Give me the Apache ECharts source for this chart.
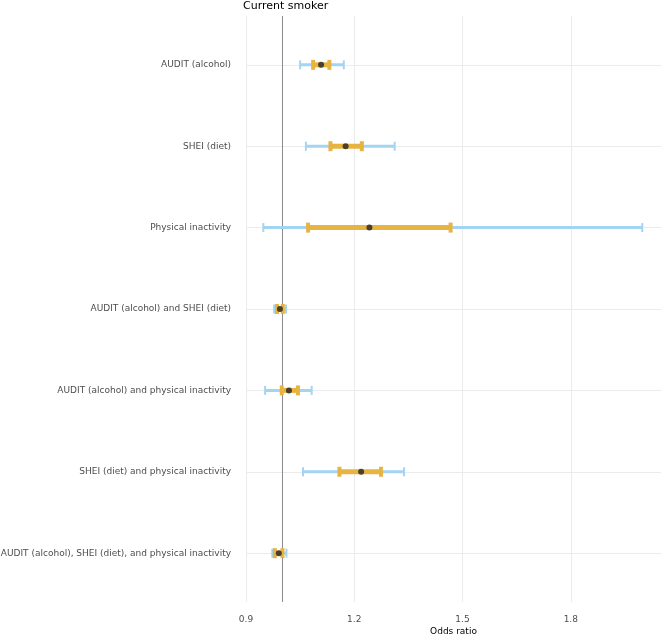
<!DOCTYPE html>
<html>
<head>
<meta charset="utf-8">
<script src="https://cdn.jsdelivr.net/npm/echarts@6/dist/echarts.min.js"></script>
<style>html,body{margin:0;padding:0;background:#fff}#c{width:661px;height:635px}</style>
</head>
<body>
<div id="c"></div>
<script>
const categories = [
  "AUDIT (alcohol)",
  "SHEI (diet)",
  "Physical inactivity",
  "AUDIT (alcohol) and SHEI (diet)",
  "AUDIT (alcohol) and physical inactivity",
  "SHEI (diet) and physical inactivity",
  "AUDIT (alcohol), SHEI (diet), and physical inactivity"
];
const estimate   = [1.108, 1.176, 1.242, 0.994, 1.019, 1.219, 0.991];
const outerLow   = [1.050, 1.066, 0.948, 0.978, 0.953, 1.058, 0.973];
const outerHigh  = [1.171, 1.312, 1.998, 1.011, 1.082, 1.338, 1.012];
const innerLow   = [1.086, 1.134, 1.072, 0.986, 0.999, 1.159, 0.980];
const innerHigh  = [1.131, 1.221, 1.467, 1.002, 1.044, 1.274, 1.001];
const xTicks = [0.9, 1.2, 1.5, 1.8];
const refValue = 1.0;

const rows = categories.map((c, i) => i + 1);

function barSeries(name, lows, highs, color, lineW, capW, capH, z) {
  return {
    type: 'custom', name: name, z: z, silent: true, clip: false,
    data: rows.map((r, i) => [lows[i], r, highs[i]]),
    encode: { x: [0, 2], y: 1 },
    renderItem: function (params, api) {
      const p0 = api.coord([api.value(0), api.value(1)]);
      const p1 = api.coord([api.value(2), api.value(1)]);
      const y = p0[1];
      return {
        type: 'group',
        children: [
          { type: 'rect', shape: { x: p0[0], y: y - lineW / 2, width: p1[0] - p0[0], height: lineW },
            style: { fill: color } },
          { type: 'rect', shape: { x: p0[0] - capW / 2, y: y - capH / 2, width: capW, height: capH },
            style: { fill: color } },
          { type: 'rect', shape: { x: p1[0] - capW / 2, y: y - capH / 2, width: capW, height: capH },
            style: { fill: color } }
        ]
      };
    }
  };
}

const chart = echarts.init(document.getElementById('c'), null, { renderer: 'canvas' });
chart.setOption({
  animation: false,
  backgroundColor: '#ffffff',
  textStyle: { fontFamily: 'DejaVu Sans' },
  title: {
    text: 'Current smoker', left: 243, top: 1, padding: 0,
    textStyle: { fontFamily: 'DejaVu Sans', fontSize: 11, fontWeight: 'normal', color: '#000' }
  },
  grid: { left: 246, right: 0, top: 16, bottom: 33, containLabel: false, outerBoundsMode: 'none' },
  xAxis: {
    type: 'value', min: 0.9, max: 2.05, interval: 0.3,
    name: 'Odds ratio', nameLocation: 'middle', nameGap: 25, nameMoveOverlap: false,
    nameTextStyle: { fontFamily: 'DejaVu Sans', fontSize: 9, color: '#000', verticalAlign: 'top' },
    axisLine: { show: false }, axisTick: { show: false },
    axisLabel: {
      fontFamily: 'DejaVu Sans', fontSize: 9, color: '#4d4d4d', margin: 13,
      showMaxLabel: false,
      formatter: function (v) {
        for (const t of xTicks) if (Math.abs(v - t) < 1e-6) return t.toFixed(1);
        return '';
      }
    },
    splitLine: { show: true, lineStyle: { color: '#ebebeb', width: 1 } }
  },
  yAxis: {
    type: 'value', inverse: true, min: 0.4, max: 7.6,
    axisLine: { show: false }, axisTick: { show: false },
    splitLine: { show: false },
    axisLabel: {
      customValues: rows,
      fontFamily: 'DejaVu Sans', fontSize: 9, color: '#4d4d4d', margin: 15,
      formatter: function (v) {
        const k = Math.round(v);
        if (Math.abs(v - k) > 1e-6 || k < 1 || k > categories.length) return '';
        return categories[k - 1];
      }
    }
  },
  series: [
    {
      type: 'line', data: [], silent: true, z: 1,
      markLine: {
        z: 1, silent: true, symbol: 'none', label: { show: false },
        lineStyle: { color: '#ebebeb', width: 1, type: 'solid' },
        data: rows.map(r => ({ yAxis: r }))
      }
    },
    {
      type: 'line', data: [], silent: true, z: 2,
      markLine: {
        z: 2, silent: true, symbol: 'none', label: { show: false },
        lineStyle: { color: '#8c8c8c', width: 1, type: 'solid' },
        data: [{ xAxis: refValue }]
      }
    },
    barSeries('outer', outerLow, outerHigh, '#a3d4f1', 3, 2, 9, 3),
    barSeries('inner', innerLow, innerHigh, '#e8b441', 5, 4, 10, 4),
    {
      type: 'scatter', z: 5, silent: true,
      data: rows.map((r, i) => [estimate[i], r]),
      symbol: 'circle', symbolSize: 6,
      itemStyle: { color: '#222222' }
    }
  ]
});
</script>
</body>
</html>
